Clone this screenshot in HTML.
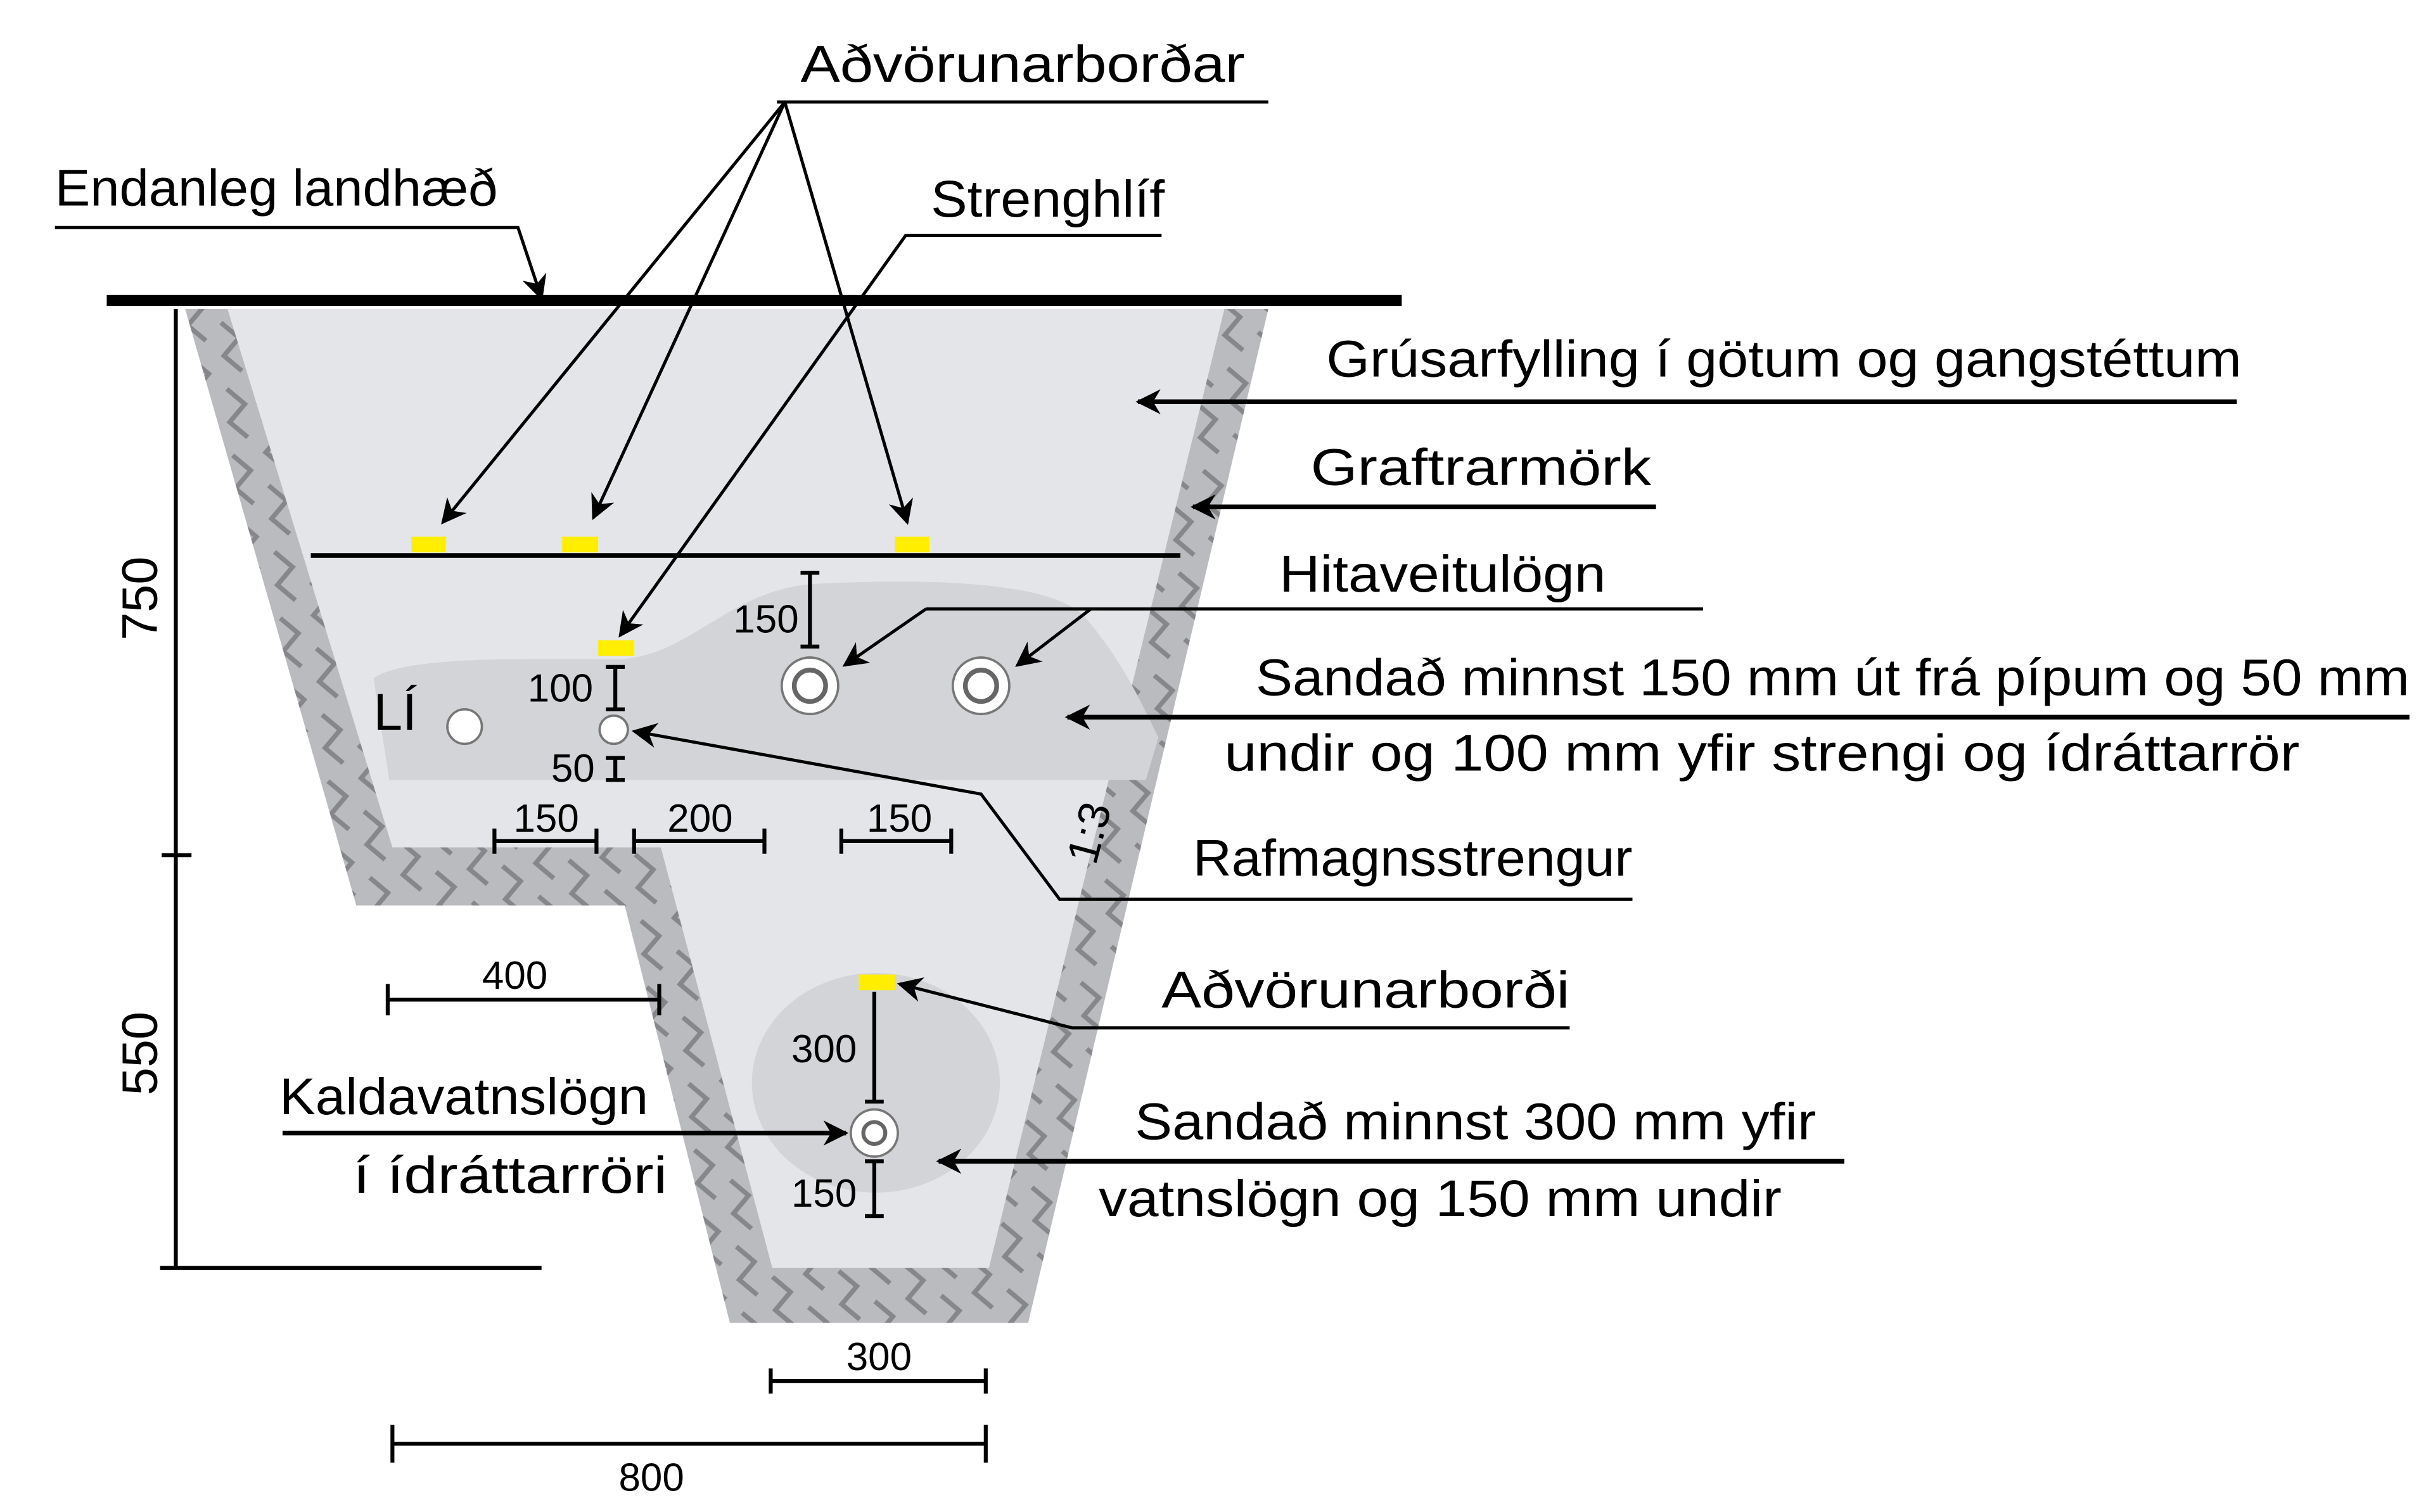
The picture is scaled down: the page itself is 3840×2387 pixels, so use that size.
<!DOCTYPE html>
<html><head><meta charset="utf-8"><style>html,body{margin:0;padding:0;background:#fff}svg{display:block}</style></head>
<body>
<svg width="3840" height="2387" viewBox="0 0 1550 963.5" xmlns="http://www.w3.org/2000/svg" font-family="Liberation Sans, DejaVu Sans, sans-serif">
<defs>
<pattern id="h" width="30" height="30" patternUnits="userSpaceOnUse" patternTransform="rotate(40)">
<rect width="30" height="30" fill="#b9bbbe"/>
<path d="M0 7 L15 7 L15 22 L30 22" stroke="#85878a" stroke-width="3" fill="none"/>
</pattern>
<marker id="A" viewBox="0 0 10 10" refX="9" refY="5" markerWidth="16" markerHeight="16" markerUnits="userSpaceOnUse" orient="auto"><path d="M0 0 L10 5 L0 10 L3 5 z" fill="#000"/></marker>
</defs>
<rect width="1550" height="964" fill="#fff"/>
<polygon points="118,197 227,577 398,577 465,843 655,843 808,197" fill="url(#h)"/>
<polygon points="145,197 250,540 421,540 492,808 630,808 780,197" fill="#e3e5e9"/>
<path d="M238,432 C260,418 330,420 395,420 C440,418 465,375 520,372 C600,368 670,372 690,392 C715,420 728,450 738,470 L730,497 L248,497 Z" fill="#d2d4d8"/>
<ellipse cx="558" cy="690" rx="79" ry="70" fill="#d2d4d8"/>
<rect x="68" y="188" width="825" height="7" fill="#000"/>
<line x1="198" y1="354" x2="752" y2="354" stroke="#000" stroke-width="3"/>
<g fill="#ffee00">
<rect x="262" y="342" width="22" height="10"/><rect x="358" y="342" width="23" height="10"/><rect x="570" y="342" width="22" height="10"/>
<rect x="381" y="408" width="23" height="10"/><rect x="547" y="621" width="23" height="10"/>
</g>
<g stroke="#777" stroke-width="1.5">
<circle cx="296" cy="463" r="11" fill="#fff"/>
<circle cx="391" cy="465" r="9" fill="#fff"/>
<circle cx="516" cy="437" r="18" fill="#fff"/><circle cx="516" cy="437" r="10" fill="none" stroke-width="3" stroke="#666"/>
<circle cx="625" cy="437" r="18" fill="#fff"/><circle cx="625" cy="437" r="10" fill="none" stroke-width="3" stroke="#666"/>
<circle cx="557" cy="722" r="15" fill="#fff"/><circle cx="557" cy="722" r="7" fill="none" stroke-width="2.5" stroke="#666"/>
</g>
<g stroke="#000" stroke-width="2" fill="none">
<line x1="495" y1="65" x2="808" y2="65"/>
<line x1="500" y1="65" x2="282" y2="333" marker-end="url(#A)"/>
<line x1="500" y1="65" x2="378" y2="330" marker-end="url(#A)"/>
<line x1="500" y1="65" x2="578" y2="333" marker-end="url(#A)"/>
<polyline points="35,145 330,145 345,190" marker-end="url(#A)"/>
<polyline points="740,150 577,150 395,405" marker-end="url(#A)"/>
<line x1="1425" y1="256" x2="725" y2="256" stroke-width="3" marker-end="url(#A)"/>
<line x1="1055" y1="323" x2="760" y2="323" stroke-width="3" marker-end="url(#A)"/>
<line x1="1085" y1="388" x2="590" y2="388"/>
<line x1="590" y1="388" x2="538" y2="424" marker-end="url(#A)"/>
<line x1="695" y1="388" x2="648" y2="424" marker-end="url(#A)"/>
<line x1="1535" y1="457" x2="680" y2="457" stroke-width="3" marker-end="url(#A)"/>
<polyline points="1040,573 675,573 625,506 404,466" marker-end="url(#A)"/>
<polyline points="1000,655 683,655 573,627" marker-end="url(#A)"/>
<line x1="180" y1="722" x2="539" y2="722" stroke-width="3" marker-end="url(#A)"/>
<line x1="1175" y1="740" x2="598" y2="740" stroke-width="3" marker-end="url(#A)"/>
</g>
<g stroke="#000" stroke-width="2.5" fill="none">
<line x1="112" y1="197" x2="112" y2="808"/><line x1="103" y1="545" x2="122" y2="545"/>
<line x1="102" y1="808" x2="345" y2="808"/>
<path d="M247,637 H420 M247,627 V647 M420,627 V647"/>
<path d="M491,880 H628 M491,872 V888 M628,872 V888"/>
<path d="M250,920 H628 M250,908 V932 M628,908 V932"/>
<path d="M315,536 H380 M315,528 V544 M380,528 V544"/>
<path d="M404,536 H487 M404,528 V544 M487,528 V544"/>
<path d="M536,536 H606 M536,528 V544 M606,528 V544"/>
<path d="M516,365 V412 M510,365 H522 M510,412 H522"/>
<path d="M392,425 V452 M386,425 H398 M386,452 H398"/>
<path d="M392,483 V497 M386,483 H398 M386,497 H398"/>
<path d="M557,632 V702 M551,702 H563"/>
<path d="M557,740 V775 M551,740 H563 M551,775 H563"/>
</g>
<g fill="#000" font-size="33" lengthAdjust="spacingAndGlyphs">
<text x="510" y="52" textLength="283" lengthAdjust="spacingAndGlyphs">Aðvörunarborðar</text>
<text x="35" y="131" textLength="282" lengthAdjust="spacingAndGlyphs">Endanleg landhæð</text>
<text x="593" y="138" textLength="149" lengthAdjust="spacingAndGlyphs">Strenghlíf</text>
<text x="845" y="240" textLength="583" lengthAdjust="spacingAndGlyphs">Grúsarfylling í götum og gangstéttum</text>
<text x="835" y="309" textLength="217" lengthAdjust="spacingAndGlyphs">Graftrarmörk</text>
<text x="815" y="377" textLength="208" lengthAdjust="spacingAndGlyphs">Hitaveitulögn</text>
<text x="800" y="443" textLength="735" lengthAdjust="spacingAndGlyphs">Sandað minnst 150 mm út frá pípum og 50 mm</text>
<text x="780" y="491" textLength="685" lengthAdjust="spacingAndGlyphs">undir og 100 mm yfir strengi og ídráttarrör</text>
<text x="760" y="558" textLength="280" lengthAdjust="spacingAndGlyphs">Rafmagnsstrengur</text>
<text x="740" y="642" textLength="260" lengthAdjust="spacingAndGlyphs">Aðvörunarborði</text>
<text x="178" y="710" textLength="235" lengthAdjust="spacingAndGlyphs">Kaldavatnslögn</text>
<text x="225" y="760" textLength="200" lengthAdjust="spacingAndGlyphs">í ídráttarröri</text>
<text x="723" y="726" textLength="434" lengthAdjust="spacingAndGlyphs">Sandað minnst 300 mm yfir</text>
<text x="700" y="775" textLength="435" lengthAdjust="spacingAndGlyphs">vatnslögn og 150 mm undir</text>
<text x="238" y="465">LÍ</text>
</g>
<g fill="#000" font-size="25">
<text transform="translate(100,408) rotate(-90)" font-size="32">750</text>
<text transform="translate(100,698) rotate(-90)" font-size="32">550</text>
<text x="328" y="630" text-anchor="middle">400</text>
<text x="560" y="873" text-anchor="middle">300</text>
<text x="415" y="950" text-anchor="middle">800</text>
<text x="348" y="530" text-anchor="middle">150</text>
<text x="446" y="530" text-anchor="middle">200</text>
<text x="573" y="530" text-anchor="middle">150</text>
<text x="488" y="403" text-anchor="middle">150</text>
<text x="357" y="447" text-anchor="middle">100</text>
<text x="365" y="498" text-anchor="middle">50</text>
<text x="525" y="677" text-anchor="middle">300</text>
<text x="525" y="769" text-anchor="middle">150</text>
<text transform="translate(698,552) rotate(-75)" font-size="28">1:3</text>
</g>
</svg>
</body></html>
